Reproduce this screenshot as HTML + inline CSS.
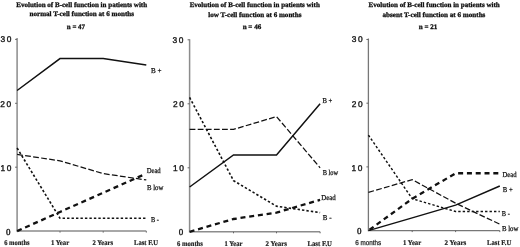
<!DOCTYPE html>
<html><head><meta charset="utf-8"><style>
html,body{margin:0;padding:0;background:#fff;width:520px;height:247px;overflow:hidden}
svg{display:block;will-change:transform;filter:blur(0.3px)}
text{text-rendering:geometricPrecision}
.t{font-family:"Liberation Serif",serif;font-weight:bold;font-size:7.0px;fill:#111;stroke:#111;stroke-width:0.3px}
.x{font-family:"Liberation Serif",serif;font-weight:bold;font-size:7.3px;fill:#222;stroke:#222;stroke-width:0.2px}
.xs{font-family:"Liberation Sans",sans-serif;font-size:7px;fill:#222;stroke:#222;stroke-width:0.25px}
.s{font-family:"Liberation Serif",serif;font-size:7.5px;fill:#111;stroke:#111;stroke-width:0.25px}
.ax{font-family:"Liberation Sans",sans-serif;font-size:8.4px;fill:#111;stroke:#111;stroke-width:0.35px}
.zero{font-family:"Liberation Serif",serif;font-size:9px;fill:#111;stroke:#111;stroke-width:0.35px}
</style></head><body>
<svg width="520" height="247" viewBox="0 0 520 247">
<path d="M17.1 38.0V231.1H146.3" style="stroke:#8c8c8c;stroke-width:1.5;fill:none"/>
<path d="M15.100000000000001 167.20H17.1" style="stroke:#666;stroke-width:1"/>
<path d="M15.100000000000001 103.30H17.1" style="stroke:#666;stroke-width:1"/>
<path d="M15.100000000000001 39.40H17.1" style="stroke:#666;stroke-width:1"/>
<path d="M60 231.1V232.6" style="stroke:#666;stroke-width:1"/>
<path d="M103.2 231.1V232.6" style="stroke:#666;stroke-width:1"/>
<path d="M146.3 231.1V232.6" style="stroke:#666;stroke-width:1"/>
<polyline points="17.10,154.42 60.00,160.81 103.20,173.59 146.30,179.98" style="stroke:#111;stroke-width:1.25;fill:none;stroke-dasharray:5.8 2.3"/>
<polyline points="17.10,148.03 60.00,218.32 103.20,218.32 146.30,218.32" style="stroke:#111;stroke-width:1.6;fill:none;stroke-dasharray:2.4 2.07"/>
<polyline points="17.10,231.10 60.00,211.93 103.20,192.76 145.39,174.00" style="stroke:#111;stroke-width:2.3;fill:none;stroke-dasharray:5 3.8"/>
<polyline points="17.10,90.52 60.00,58.57 103.20,58.57 146.30,64.96" style="stroke:#111;stroke-width:1.5;fill:none"/>
<text x="0.55 6.80" y="42.2" class="ax">30</text>
<text x="0.35 6.60" y="106.8" class="ax">20</text>
<text x="0.50 6.75" y="171.0" class="ax">10</text>
<text x="5.95" y="234.8" class="zero">0</text>
<path d="M189.6 39.3V231.8H320.1" style="stroke:#8c8c8c;stroke-width:1.5;fill:none"/>
<path d="M187.6 167.80H189.6" style="stroke:#666;stroke-width:1"/>
<path d="M187.6 103.80H189.6" style="stroke:#666;stroke-width:1"/>
<path d="M187.6 39.80H189.6" style="stroke:#666;stroke-width:1"/>
<path d="M233.5 231.8V233.3" style="stroke:#666;stroke-width:1"/>
<path d="M276.5 231.8V233.3" style="stroke:#666;stroke-width:1"/>
<path d="M320.1 231.8V233.3" style="stroke:#666;stroke-width:1"/>
<polyline points="189.60,129.40 233.50,129.40 276.50,116.60 320.10,167.80" style="stroke:#111;stroke-width:1.25;fill:none;stroke-dasharray:5.8 2.3"/>
<polyline points="189.60,97.40 233.50,180.60 276.50,206.20 320.10,212.60" style="stroke:#111;stroke-width:1.6;fill:none;stroke-dasharray:2.4 2.07"/>
<polyline points="189.60,231.80 233.50,219.00 276.50,212.60 320.10,199.80" style="stroke:#111;stroke-width:2.3;fill:none;stroke-dasharray:5 3.8"/>
<polyline points="189.60,187.00 233.50,155.00 276.50,155.00 320.10,103.80" style="stroke:#111;stroke-width:1.5;fill:none"/>
<text x="172.55 178.80" y="42.6" class="ax">30</text>
<text x="173.05 179.30" y="107.0" class="ax">20</text>
<text x="173.00 179.25" y="171.0" class="ax">10</text>
<text x="178.65" y="234.9" class="zero">0</text>
<path d="M368.4 38.5V230.6H499.8" style="stroke:#777;stroke-width:1.3;fill:none"/>
<path d="M366.4 166.90H368.4" style="stroke:#666;stroke-width:1"/>
<path d="M366.4 103.20H368.4" style="stroke:#666;stroke-width:1"/>
<path d="M366.4 39.50H368.4" style="stroke:#666;stroke-width:1"/>
<path d="M412.2 230.6V232.1" style="stroke:#666;stroke-width:1"/>
<path d="M455.6 230.6V232.1" style="stroke:#666;stroke-width:1"/>
<path d="M499.8 230.6V232.1" style="stroke:#666;stroke-width:1"/>
<polyline points="368.40,192.38 412.20,179.64 455.60,203.21 499.80,224.23" style="stroke:#111;stroke-width:1.25;fill:none;stroke-dasharray:5.8 2.3"/>
<polyline points="368.40,135.05 412.20,198.75 455.60,211.49 499.80,211.49" style="stroke:#111;stroke-width:1.6;fill:none;stroke-dasharray:2.4 2.07;stroke-width:1.45"/>
<polyline points="368.40,230.60 412.20,198.75 455.60,173.27 499.80,173.27" style="stroke:#111;stroke-width:2.3;fill:none;stroke-dasharray:5 3.8;stroke-dashoffset:-1.4"/>
<polyline points="368.40,230.60 412.20,217.86 455.60,205.12 499.80,186.01" style="stroke:#111;stroke-width:1.5;fill:none"/>
<text x="351.65 357.90" y="42.1" class="ax">30</text>
<text x="351.65 357.90" y="107.0" class="ax">20</text>
<text x="351.40 357.65" y="170.6" class="ax">10</text>
<text x="357.05" y="233.9" class="zero">0</text>
<text x="16.3" y="6.9" class="t" textLength="130.80" lengthAdjust="spacingAndGlyphs">Evolution of B-cell function in patients with</text>
<text x="29.5" y="16.0" class="t" textLength="104.50" lengthAdjust="spacingAndGlyphs">normal T-cell function at 6 months</text>
<text x="66.8" y="28.8" class="t" textLength="18.20" lengthAdjust="spacingAndGlyphs">n = 47</text>
<text x="189.7" y="7.4" class="t" textLength="130.10" lengthAdjust="spacingAndGlyphs">Evolution of B-cell function in patients with</text>
<text x="208.3" y="16.5" class="t" textLength="93.10" lengthAdjust="spacingAndGlyphs">low T-cell function at 6 months</text>
<text x="242.7" y="28.8" class="t" textLength="18.50" lengthAdjust="spacingAndGlyphs">n = 46</text>
<text x="368.5" y="7.3" class="t" textLength="131.30" lengthAdjust="spacingAndGlyphs">Evolution of B-cell function in patients with</text>
<text x="382.5" y="16.5" class="t" textLength="102.90" lengthAdjust="spacingAndGlyphs">absent T-cell function at 6 months</text>
<text x="418.8" y="28.8" class="t" textLength="18.50" lengthAdjust="spacingAndGlyphs">n = 21</text>
<text x="4.2" y="244.9" class="x" textLength="25.40" lengthAdjust="spacingAndGlyphs">6 months</text>
<text x="50.9" y="244.9" class="x" textLength="18.30" lengthAdjust="spacingAndGlyphs">1 Year</text>
<text x="92.5" y="244.9" class="x" textLength="20.50" lengthAdjust="spacingAndGlyphs">2 Years</text>
<text x="134" y="244.8" class="x" textLength="24.00" lengthAdjust="spacingAndGlyphs">Last F.U</text>
<text x="177" y="245.6" class="x" textLength="25.80" lengthAdjust="spacingAndGlyphs">6 months</text>
<text x="224.5" y="245.6" class="x" textLength="17.90" lengthAdjust="spacingAndGlyphs">1 Year</text>
<text x="265.5" y="245.6" class="x" textLength="21.50" lengthAdjust="spacingAndGlyphs">2 Years</text>
<text x="307.5" y="245.6" class="x" textLength="24.50" lengthAdjust="spacingAndGlyphs">Last F.U</text>
<text x="355.3" y="244.7" class="xs" textLength="25.95" lengthAdjust="spacingAndGlyphs">6 months</text>
<text x="403" y="244.6" class="x" textLength="18.20" lengthAdjust="spacingAndGlyphs">1 Year</text>
<text x="444.5" y="244.6" class="x" textLength="21.75" lengthAdjust="spacingAndGlyphs">2 Years</text>
<text x="487" y="244.6" class="x" textLength="24.25" lengthAdjust="spacingAndGlyphs">Last F.U</text>
<text x="151" y="72.9" class="s" textLength="10.60" lengthAdjust="spacingAndGlyphs">B +</text>
<text x="146.7" y="172.5" class="s" textLength="14.00" lengthAdjust="spacingAndGlyphs">Dead</text>
<text x="146.9" y="190.1" class="s" textLength="16.50" lengthAdjust="spacingAndGlyphs">B low</text>
<text x="151" y="222.4" class="s" textLength="8.00" lengthAdjust="spacingAndGlyphs">B -</text>
<text x="322.4" y="103" class="s" textLength="9.90" lengthAdjust="spacingAndGlyphs">B +</text>
<text x="322.7" y="174.8" class="s" textLength="15.50" lengthAdjust="spacingAndGlyphs">B low</text>
<text x="321.25" y="199.8" class="s" textLength="14.45" lengthAdjust="spacingAndGlyphs">Dead</text>
<text x="322.8" y="220.4" class="s" textLength="8.70" lengthAdjust="spacingAndGlyphs">B -</text>
<text x="502.5" y="176.5" class="s" textLength="14.00" lengthAdjust="spacingAndGlyphs">Dead</text>
<text x="502.8" y="192" class="s" textLength="10.00" lengthAdjust="spacingAndGlyphs">B +</text>
<text x="501.8" y="215.6" class="s" textLength="8.00" lengthAdjust="spacingAndGlyphs">B -</text>
<text x="501.9" y="230.5" class="s" textLength="16.60" lengthAdjust="spacingAndGlyphs">B low</text>
</svg>
</body></html>
